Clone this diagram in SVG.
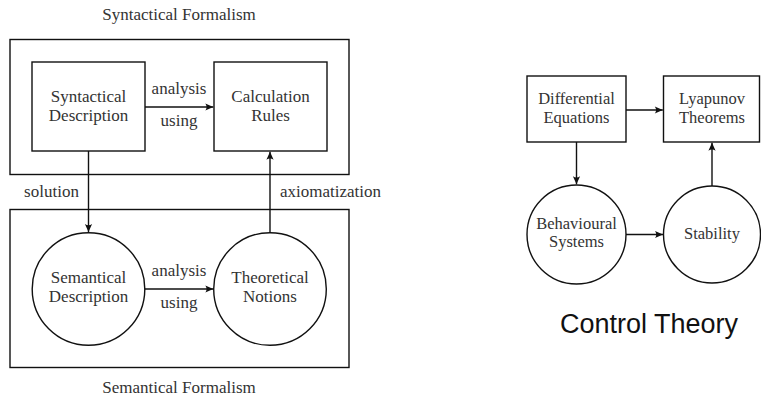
<svg xmlns="http://www.w3.org/2000/svg" width="761" height="397" viewBox="0 0 761 397" font-family="Liberation Serif, DejaVu Serif, serif">
<style>
.b{fill:#fff;stroke:#111;stroke-width:1.4}
.o{fill:none;stroke:#111;stroke-width:1.4}
text{font-family:"Liberation Serif",serif}
.t{font-size:17px;fill:#333;text-anchor:middle}
.r{font-size:16.5px}
.c{fill:none;stroke:#111;stroke-width:1.4;marker-end:url(#ah)}
text.s{font-family:"Liberation Sans",sans-serif;font-size:27px;fill:#111;text-anchor:middle}
</style>
<defs>
<marker id="ah" markerUnits="userSpaceOnUse" markerWidth="12" markerHeight="10" viewBox="-9 -5 10 10" refX="0" refY="0" orient="auto">
<path d="M0,0 L-8,-3.6 Q-5.5,0 -8,3.6 Z" fill="#111"/>
</marker>
</defs>
<g id="syntactical-formalism">
<rect class="o" x="10" y="39.5" width="339" height="135"/>
<text class="t" x="179" y="19.5">Syntactical Formalism</text>
</g>
<g id="semantical-formalism">
<rect class="o" x="10" y="209.5" width="339" height="158"/>
<text class="t" x="179" y="393">Semantical Formalism</text>
</g>
<g id="syntactical-description">
<rect class="b" x="32" y="62" width="113" height="89"/>
<text class="t" x="88.5" y="101.5">Syntactical</text>
<text class="t" x="88.5" y="120.5">Description</text>
</g>
<g id="calculation-rules">
<rect class="b" x="214" y="62" width="113" height="89"/>
<text class="t" x="270.5" y="101.5">Calculation</text>
<text class="t" x="270.5" y="120.5">Rules</text>
</g>
<g id="semantical-description">
<circle class="b" cx="88.5" cy="289" r="56.3"/>
<text class="t" x="88.5" y="282.7">Semantical</text>
<text class="t" x="88.5" y="301.7">Description</text>
</g>
<g id="theoretical-notions">
<circle class="b" cx="270" cy="289" r="56.3"/>
<text class="t" x="270" y="282.7">Theoretical</text>
<text class="t" x="270" y="301.7">Notions</text>
</g>
<g id="differential-equations">
<rect class="b" x="527" y="76" width="99" height="66"/>
<text class="t r" x="576.5" y="103.5">Differential</text>
<text class="t r" x="576.5" y="122.5">Equations</text>
</g>
<g id="lyapunov-theorems">
<rect class="b" x="663.5" y="76" width="96" height="66"/>
<text class="t r" x="712" y="103.5">Lyapunov</text>
<text class="t r" x="712" y="122.5">Theorems</text>
</g>
<g id="behavioural-systems">
<circle class="b" cx="576.5" cy="234.5" r="49.5"/>
<text class="t r" x="576.5" y="228.5">Behavioural</text>
<text class="t r" x="576.5" y="247">Systems</text>
</g>
<g id="stability">
<circle class="b" cx="712" cy="234.5" r="48.5"/>
<text class="t r" x="712" y="238.5">Stability</text>
</g>
<g id="control-theory-label">
<text class="s" x="649" y="333">Control Theory</text>
</g>
<g id="connectors">
<line class="c" x1="145" y1="107" x2="213.3" y2="107"/>
<line class="c" x1="145" y1="289" x2="213.3" y2="289"/>
<line class="c" x1="88.5" y1="151" x2="88.5" y2="232"/>
<line class="c" x1="270" y1="232.7" x2="270" y2="151.7"/>
<line class="c" x1="626" y1="110" x2="662.8" y2="110"/>
<line class="c" x1="576.5" y1="142" x2="576.5" y2="184.3"/>
<line class="c" x1="626" y1="234.5" x2="663" y2="234.5"/>
<line class="c" x1="712" y1="186" x2="712" y2="142.7"/>
<text class="t" x="179" y="94">analysis</text>
<text class="t" x="179" y="126">using</text>
<text class="t" x="179" y="276">analysis</text>
<text class="t" x="179" y="308">using</text>
<text class="t" x="51.5" y="197">solution</text>
<text class="t" x="280" y="197" style="text-anchor:start">axiomatization</text>
</g>
</svg>
